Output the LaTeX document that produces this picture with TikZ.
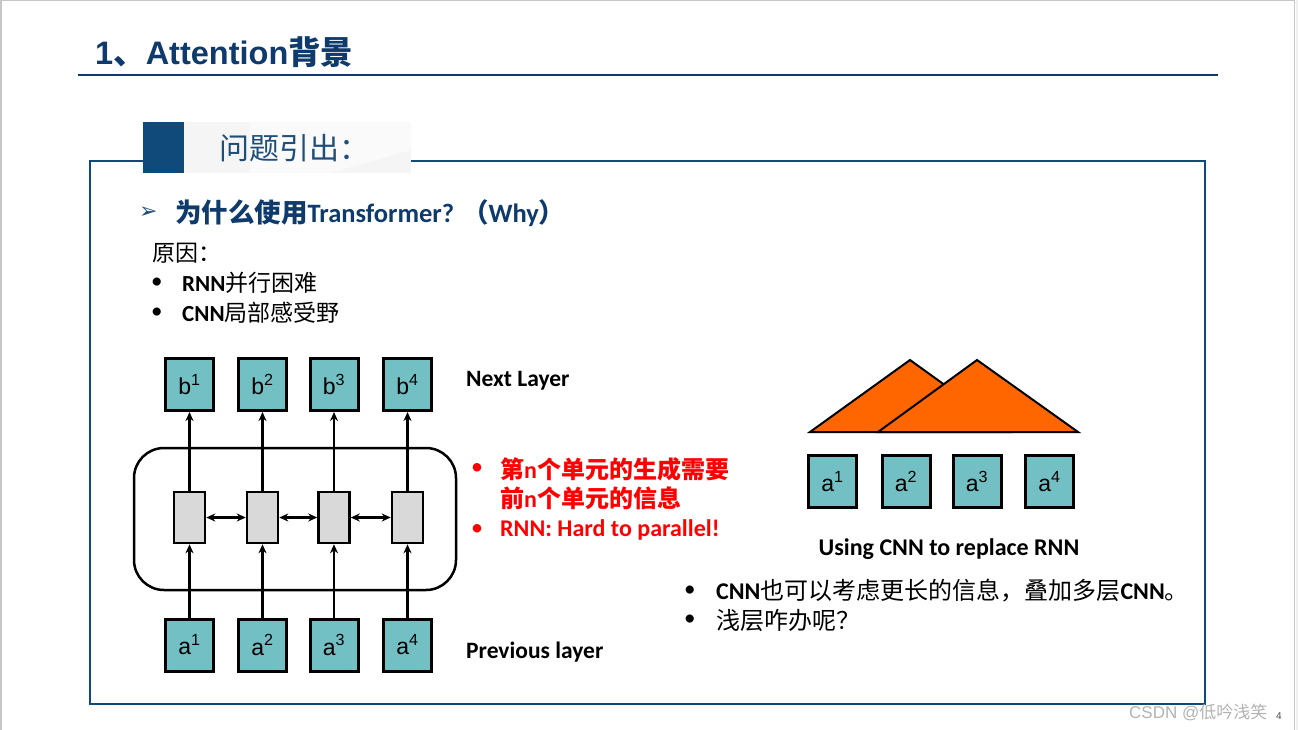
\documentclass[tikz,border=0pt]{standalone}
\usepackage{fontspec}
\setmainfont{Carlito}
\newfontfamily\cjk{Noto Sans CJK SC}
\newfontfamily\arialf{Liberation Sans}
\newfontfamily\symf{DejaVu Sans}
\usetikzlibrary{arrows.meta}
\definecolor{titleblue}{RGB}{14,58,108}
\definecolor{frameblue}{RGB}{16,74,122}
\definecolor{tealbox}{RGB}{114,191,196}
\definecolor{cellgray}{RGB}{217,217,217}
\definecolor{orangetri}{RGB}{255,102,0}
\definecolor{headtxt}{RGB}{31,78,121}
\begin{document}
\begin{tikzpicture}[x=1pt,y=-1pt,
  vecbox/.style={draw=black,line width=3pt,fill=tealbox,minimum width=48pt,minimum height=52pt,inner sep=0pt,font=\arialf\fontsize{23}{25}\selectfont},
  cellbox/.style={draw=black,line width=2.5pt,fill=cellgray,minimum width=31pt,minimum height=51pt,inner sep=0pt},
  arr/.style={line width=2.5pt,-{Stealth[length=9pt,width=8pt]}},
  darr/.style={line width=2.5pt,{Stealth[length=9pt,width=8pt]}-{Stealth[length=9pt,width=8pt]}},
  lbl/.style={anchor=west,inner sep=0pt,font=\bfseries\fontsize{23.5}{27}\selectfont},
  bodytxt/.style={anchor=west,inner sep=0pt,font=\fontsize{23}{27}\selectfont},
  redtxt/.style={anchor=west,inner sep=0pt,text=red,font=\bfseries\fontsize{24}{27}\selectfont},
  tri/.style={draw=black,line width=2pt,fill=orangetri,line join=miter}
]
\useasboundingbox (0,0) rectangle (1298,730);
\fill[white] (0,0) rectangle (1298,730);
% slide border
\draw[gray!45,line width=1.5pt] (0.75,730) -- (0.75,0.75) -- (1294.5,0.75) -- (1294.5,730);
\fill[gray!12] (1295.5,0) rectangle (1298,730);

% title
\node[anchor=west,inner sep=0pt,text=titleblue] (title) at (95,52)
  {\arialf\bfseries\fontsize{32.5}{35}\selectfont 1{\cjk\bfseries 、}Attention{\cjk\bfseries 背景}};
\draw[titleblue,line width=2.2pt] (78,75) -- (1218,75);

% content frame
\draw[frameblue,line width=2pt] (90,161) rectangle (1205,704);
% header tab
\fill[gray!8] (184,122) rectangle (411,173);
\fill[gray!4] (250,122) -- (411,122) -- (411,150) -- (330,173) -- (250,173) -- cycle;
\fill[frameblue] (143,122) rectangle (184,173);
\node[anchor=west,inner sep=0pt,text=headtxt] (tab) at (219,148)
  {\cjk\fontsize{30}{32}\selectfont 问题引出：};

% question
\node[anchor=west,inner sep=0pt,text=headtxt] (qarrow) at (139,213) {\symf\fontsize{22}{24}\selectfont ➢};
\node[anchor=west,inner sep=0pt,text=titleblue] (q) at (175,213)
  {\bfseries\fontsize{26.5}{29}\selectfont{\cjk\bfseries 为什么使用}Transformer? {\cjk\bfseries （}Why{\cjk\bfseries ）}};
\node[bodytxt] (reason) at (152,253) {\cjk 原因：};
\node[bodytxt] (b1dot) at (151,283) {•};
\node[bodytxt] (r1) at (182,283) {\bfseries RNN{\cjk\mdseries 并行困难}};
\node[bodytxt] (b2dot) at (151,313) {•};
\node[bodytxt] (r2) at (182,313) {\bfseries CNN{\cjk\mdseries 局部感受野}};

% RNN diagram
\draw[black,line width=2.5pt,rounded corners=30pt] (134,448) rectangle (456,590);
\foreach \i/\x in {1/189.5,2/262.5,3/334,4/407.5}{
  \node[vecbox] (b\i) at (\x,384.5) {b\textsuperscript{\i}};
  \node[vecbox] (a\i) at (\x,645) {a\textsuperscript{\i}};
  \node[cellbox] (c\i) at (\x,517.5) {};
  \draw[arr] (a\i) -- (c\i);
  \draw[arr] (c\i) -- (b\i);
}
\draw[darr] (c1) -- (c2);
\draw[darr] (c2) -- (c3);
\draw[darr] (c3) -- (c4);
\node[lbl] (next) at (466,381) {Next Layer};
\node[lbl] (prev) at (466,652) {Previous layer};

% red notes
\node[redtxt] (rd1) at (471,469) {\mdseries •};
\node[redtxt] (rt1) at (500,469) {{\cjk\bfseries 第}n{\cjk\bfseries 个单元的生成需要}};
\node[redtxt] (rt2) at (500,498) {{\cjk\bfseries 前}n{\cjk\bfseries 个单元的信息}};
\node[redtxt] (rd2) at (471,530) {\mdseries •};
\node[redtxt] (rt3) at (500,530) {RNN: Hard to parallel!};

% CNN diagram
\draw[tri] (810,432) -- (910,360) -- (1010,432) -- cycle;
\draw[tri] (878,432) -- (977,360) -- (1078,432) -- cycle;
\foreach \i/\x in {1/832.5,2/906,3/977,4/1049.5}{
  \node[vecbox] (ca\i) at (\x,481.5) {a\textsuperscript{\i}};
}
\node[inner sep=0pt,font=\bfseries\fontsize{24}{27}\selectfont] (cnncap) at (949,549) {Using CNN to replace RNN};
\node[bodytxt] (cd1) at (684,591) {•};
\node[bodytxt,font=\fontsize{24}{27}\selectfont] (ct1) at (716,591) {\bfseries CNN{\cjk\mdseries 也可以考虑更长的信息，叠加多层}CNN{\cjk\mdseries 。}};
\node[bodytxt] (cd2) at (684,620) {•};
\node[bodytxt,font=\fontsize{24}{27}\selectfont] (ct2) at (716,620) {\cjk 浅层咋办呢？};

% watermark
\node[anchor=west,inner sep=0pt,text=gray!60] (wm) at (1129,712) {\fontsize{17}{19}\selectfont\arialf CSDN @{\cjk 低吟浅笑}};
\node[anchor=west,inner sep=0pt,text=black!70] (pg) at (1276,716) {\arialf\fontsize{10}{12}\selectfont 4};
\end{tikzpicture}
\end{document}
